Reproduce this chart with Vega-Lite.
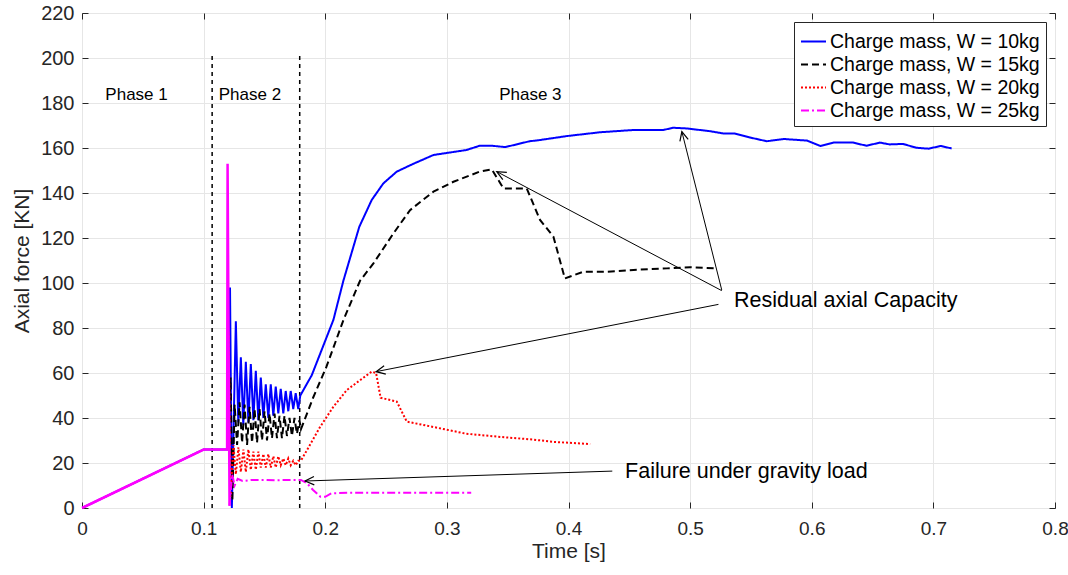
{
  "$schema": "https://vega.github.io/schema/vega-lite/v6.json",
  "width": 973,
  "height": 495,
  "autosize": "none",
  "padding": {"left": 82, "top": 13, "right": 13, "bottom": 67},
  "background": "white",
  "config": {
    "view": {"stroke": "#262626", "strokeWidth": 1},
    "font": "Liberation Sans",
    "axis": {
      "domain": false,
      "ticks": true,
      "tickSize": -6,
      "tickColor": "#262626",
      "tickWidth": 1,
      "labelFlush": false,
      "labelOverlap": false,
      "grid": true,
      "gridColor": "#e6e6e6",
      "gridWidth": 1,
      "labelColor": "#262626",
      "titleColor": "#262626",
      "labelFont": "Liberation Sans",
      "titleFont": "Liberation Sans",
      "titleFontWeight": "normal"
    }
  },
  "resolve": {"axis": {"x": "independent", "y": "independent"}},
  "datasets": {
    "series": [
      {"s": "Charge mass, W = 10kg", "t": 0, "f": 0},
      {"s": "Charge mass, W = 10kg", "t": 0.1, "f": 26},
      {"s": "Charge mass, W = 10kg", "t": 0.12, "f": 26},
      {"s": "Charge mass, W = 10kg", "t": 0.1217, "f": 98},
      {"s": "Charge mass, W = 10kg", "t": 0.1232, "f": 0},
      {"s": "Charge mass, W = 10kg", "t": 0.1265, "f": 83},
      {"s": "Charge mass, W = 10kg", "t": 0.1285, "f": 38},
      {"s": "Charge mass, W = 10kg", "t": 0.1306, "f": 67},
      {"s": "Charge mass, W = 10kg", "t": 0.1326, "f": 37},
      {"s": "Charge mass, W = 10kg", "t": 0.1347, "f": 65},
      {"s": "Charge mass, W = 10kg", "t": 0.1368, "f": 38},
      {"s": "Charge mass, W = 10kg", "t": 0.1388, "f": 64},
      {"s": "Charge mass, W = 10kg", "t": 0.1409, "f": 39},
      {"s": "Charge mass, W = 10kg", "t": 0.1429, "f": 61},
      {"s": "Charge mass, W = 10kg", "t": 0.145, "f": 39},
      {"s": "Charge mass, W = 10kg", "t": 0.147, "f": 58},
      {"s": "Charge mass, W = 10kg", "t": 0.1491, "f": 40},
      {"s": "Charge mass, W = 10kg", "t": 0.1511, "f": 55},
      {"s": "Charge mass, W = 10kg", "t": 0.1532, "f": 40},
      {"s": "Charge mass, W = 10kg", "t": 0.1552, "f": 55},
      {"s": "Charge mass, W = 10kg", "t": 0.1573, "f": 41},
      {"s": "Charge mass, W = 10kg", "t": 0.1593, "f": 54},
      {"s": "Charge mass, W = 10kg", "t": 0.1614, "f": 42},
      {"s": "Charge mass, W = 10kg", "t": 0.1634, "f": 53},
      {"s": "Charge mass, W = 10kg", "t": 0.1655, "f": 42},
      {"s": "Charge mass, W = 10kg", "t": 0.1675, "f": 52},
      {"s": "Charge mass, W = 10kg", "t": 0.1696, "f": 43},
      {"s": "Charge mass, W = 10kg", "t": 0.1716, "f": 52},
      {"s": "Charge mass, W = 10kg", "t": 0.1737, "f": 44},
      {"s": "Charge mass, W = 10kg", "t": 0.1757, "f": 51},
      {"s": "Charge mass, W = 10kg", "t": 0.1778, "f": 44},
      {"s": "Charge mass, W = 10kg", "t": 0.1795, "f": 50},
      {"s": "Charge mass, W = 10kg", "t": 0.1889, "f": 59},
      {"s": "Charge mass, W = 10kg", "t": 0.2067, "f": 83.6},
      {"s": "Charge mass, W = 10kg", "t": 0.2149, "f": 101},
      {"s": "Charge mass, W = 10kg", "t": 0.228, "f": 125},
      {"s": "Charge mass, W = 10kg", "t": 0.2382, "f": 136.9},
      {"s": "Charge mass, W = 10kg", "t": 0.2478, "f": 144.3},
      {"s": "Charge mass, W = 10kg", "t": 0.2588, "f": 149.5},
      {"s": "Charge mass, W = 10kg", "t": 0.2725, "f": 153},
      {"s": "Charge mass, W = 10kg", "t": 0.289, "f": 156.9},
      {"s": "Charge mass, W = 10kg", "t": 0.316, "f": 159.1},
      {"s": "Charge mass, W = 10kg", "t": 0.327, "f": 161},
      {"s": "Charge mass, W = 10kg", "t": 0.337, "f": 161},
      {"s": "Charge mass, W = 10kg", "t": 0.348, "f": 160.4},
      {"s": "Charge mass, W = 10kg", "t": 0.368, "f": 163},
      {"s": "Charge mass, W = 10kg", "t": 0.376, "f": 163.5},
      {"s": "Charge mass, W = 10kg", "t": 0.3986, "f": 165.3},
      {"s": "Charge mass, W = 10kg", "t": 0.426, "f": 167},
      {"s": "Charge mass, W = 10kg", "t": 0.4534, "f": 168},
      {"s": "Charge mass, W = 10kg", "t": 0.467, "f": 168},
      {"s": "Charge mass, W = 10kg", "t": 0.478, "f": 168},
      {"s": "Charge mass, W = 10kg", "t": 0.486, "f": 169},
      {"s": "Charge mass, W = 10kg", "t": 0.497, "f": 168.7},
      {"s": "Charge mass, W = 10kg", "t": 0.516, "f": 167.5},
      {"s": "Charge mass, W = 10kg", "t": 0.527, "f": 166.5},
      {"s": "Charge mass, W = 10kg", "t": 0.536, "f": 166.5},
      {"s": "Charge mass, W = 10kg", "t": 0.549, "f": 164.7},
      {"s": "Charge mass, W = 10kg", "t": 0.563, "f": 163},
      {"s": "Charge mass, W = 10kg", "t": 0.577, "f": 164},
      {"s": "Charge mass, W = 10kg", "t": 0.596, "f": 163.3},
      {"s": "Charge mass, W = 10kg", "t": 0.607, "f": 160.9},
      {"s": "Charge mass, W = 10kg", "t": 0.618, "f": 162.4},
      {"s": "Charge mass, W = 10kg", "t": 0.634, "f": 162.4},
      {"s": "Charge mass, W = 10kg", "t": 0.645, "f": 161},
      {"s": "Charge mass, W = 10kg", "t": 0.656, "f": 162.4},
      {"s": "Charge mass, W = 10kg", "t": 0.664, "f": 161.6},
      {"s": "Charge mass, W = 10kg", "t": 0.675, "f": 161.8},
      {"s": "Charge mass, W = 10kg", "t": 0.686, "f": 160.1},
      {"s": "Charge mass, W = 10kg", "t": 0.696, "f": 159.7},
      {"s": "Charge mass, W = 10kg", "t": 0.706, "f": 160.9},
      {"s": "Charge mass, W = 10kg", "t": 0.715, "f": 159.8},

      {"s": "Charge mass, W = 15kg", "t": 0.12, "f": 26},
      {"s": "Charge mass, W = 15kg", "t": 0.1222, "f": 58},
      {"s": "Charge mass, W = 15kg", "t": 0.1236, "f": 3},
      {"s": "Charge mass, W = 15kg", "t": 0.1255, "f": 46},
      {"s": "Charge mass, W = 15kg", "t": 0.1275, "f": 28},
      {"s": "Charge mass, W = 15kg", "t": 0.1296, "f": 47},
      {"s": "Charge mass, W = 15kg", "t": 0.1316, "f": 29},
      {"s": "Charge mass, W = 15kg", "t": 0.1337, "f": 46},
      {"s": "Charge mass, W = 15kg", "t": 0.1357, "f": 28},
      {"s": "Charge mass, W = 15kg", "t": 0.1378, "f": 45},
      {"s": "Charge mass, W = 15kg", "t": 0.1398, "f": 29},
      {"s": "Charge mass, W = 15kg", "t": 0.1419, "f": 44},
      {"s": "Charge mass, W = 15kg", "t": 0.1439, "f": 29},
      {"s": "Charge mass, W = 15kg", "t": 0.146, "f": 44},
      {"s": "Charge mass, W = 15kg", "t": 0.148, "f": 30},
      {"s": "Charge mass, W = 15kg", "t": 0.1501, "f": 43},
      {"s": "Charge mass, W = 15kg", "t": 0.1521, "f": 30},
      {"s": "Charge mass, W = 15kg", "t": 0.1542, "f": 42},
      {"s": "Charge mass, W = 15kg", "t": 0.1562, "f": 31},
      {"s": "Charge mass, W = 15kg", "t": 0.1583, "f": 42},
      {"s": "Charge mass, W = 15kg", "t": 0.1603, "f": 31},
      {"s": "Charge mass, W = 15kg", "t": 0.1624, "f": 41},
      {"s": "Charge mass, W = 15kg", "t": 0.1644, "f": 31},
      {"s": "Charge mass, W = 15kg", "t": 0.1665, "f": 41},
      {"s": "Charge mass, W = 15kg", "t": 0.1685, "f": 32},
      {"s": "Charge mass, W = 15kg", "t": 0.1706, "f": 40},
      {"s": "Charge mass, W = 15kg", "t": 0.1726, "f": 32},
      {"s": "Charge mass, W = 15kg", "t": 0.1747, "f": 40},
      {"s": "Charge mass, W = 15kg", "t": 0.1767, "f": 33},
      {"s": "Charge mass, W = 15kg", "t": 0.1788, "f": 39},
      {"s": "Charge mass, W = 15kg", "t": 0.18, "f": 35},
      {"s": "Charge mass, W = 15kg", "t": 0.19, "f": 49},
      {"s": "Charge mass, W = 15kg", "t": 0.201, "f": 62.8},
      {"s": "Charge mass, W = 15kg", "t": 0.215, "f": 83.6},
      {"s": "Charge mass, W = 15kg", "t": 0.2286, "f": 101},
      {"s": "Charge mass, W = 15kg", "t": 0.2396, "f": 108.7},
      {"s": "Charge mass, W = 15kg", "t": 0.256, "f": 122},
      {"s": "Charge mass, W = 15kg", "t": 0.2697, "f": 132.4},
      {"s": "Charge mass, W = 15kg", "t": 0.289, "f": 140.6},
      {"s": "Charge mass, W = 15kg", "t": 0.3054, "f": 145},
      {"s": "Charge mass, W = 15kg", "t": 0.327, "f": 149.5},
      {"s": "Charge mass, W = 15kg", "t": 0.337, "f": 150.5},
      {"s": "Charge mass, W = 15kg", "t": 0.3465, "f": 142},
      {"s": "Charge mass, W = 15kg", "t": 0.3657, "f": 142},
      {"s": "Charge mass, W = 15kg", "t": 0.3766, "f": 128},
      {"s": "Charge mass, W = 15kg", "t": 0.3876, "f": 120.6},
      {"s": "Charge mass, W = 15kg", "t": 0.397, "f": 102},
      {"s": "Charge mass, W = 15kg", "t": 0.412, "f": 105},
      {"s": "Charge mass, W = 15kg", "t": 0.431, "f": 105},
      {"s": "Charge mass, W = 15kg", "t": 0.4534, "f": 105.8},
      {"s": "Charge mass, W = 15kg", "t": 0.481, "f": 106.5},
      {"s": "Charge mass, W = 15kg", "t": 0.5, "f": 107},
      {"s": "Charge mass, W = 15kg", "t": 0.52, "f": 106.5},

      {"s": "Charge mass, W = 20kg", "t": 0.12, "f": 26},
      {"s": "Charge mass, W = 20kg", "t": 0.1205, "f": 78},
      {"s": "Charge mass, W = 20kg", "t": 0.1222, "f": 5},
      {"s": "Charge mass, W = 20kg", "t": 0.1245, "f": 28},
      {"s": "Charge mass, W = 20kg", "t": 0.1265, "f": 15},
      {"s": "Charge mass, W = 20kg", "t": 0.1286, "f": 27},
      {"s": "Charge mass, W = 20kg", "t": 0.1306, "f": 16},
      {"s": "Charge mass, W = 20kg", "t": 0.1327, "f": 26},
      {"s": "Charge mass, W = 20kg", "t": 0.1347, "f": 16},
      {"s": "Charge mass, W = 20kg", "t": 0.1368, "f": 26},
      {"s": "Charge mass, W = 20kg", "t": 0.1388, "f": 17},
      {"s": "Charge mass, W = 20kg", "t": 0.1409, "f": 25},
      {"s": "Charge mass, W = 20kg", "t": 0.1429, "f": 17},
      {"s": "Charge mass, W = 20kg", "t": 0.145, "f": 25},
      {"s": "Charge mass, W = 20kg", "t": 0.147, "f": 18},
      {"s": "Charge mass, W = 20kg", "t": 0.1491, "f": 24},
      {"s": "Charge mass, W = 20kg", "t": 0.1511, "f": 18},
      {"s": "Charge mass, W = 20kg", "t": 0.1532, "f": 24},
      {"s": "Charge mass, W = 20kg", "t": 0.1552, "f": 18},
      {"s": "Charge mass, W = 20kg", "t": 0.1573, "f": 23},
      {"s": "Charge mass, W = 20kg", "t": 0.1593, "f": 18},
      {"s": "Charge mass, W = 20kg", "t": 0.1614, "f": 23},
      {"s": "Charge mass, W = 20kg", "t": 0.1634, "f": 19},
      {"s": "Charge mass, W = 20kg", "t": 0.1655, "f": 22},
      {"s": "Charge mass, W = 20kg", "t": 0.1675, "f": 19},
      {"s": "Charge mass, W = 20kg", "t": 0.1696, "f": 22},
      {"s": "Charge mass, W = 20kg", "t": 0.1716, "f": 19},
      {"s": "Charge mass, W = 20kg", "t": 0.1737, "f": 21},
      {"s": "Charge mass, W = 20kg", "t": 0.1757, "f": 19},
      {"s": "Charge mass, W = 20kg", "t": 0.1778, "f": 21},
      {"s": "Charge mass, W = 20kg", "t": 0.18, "f": 21},
      {"s": "Charge mass, W = 20kg", "t": 0.1957, "f": 36},
      {"s": "Charge mass, W = 20kg", "t": 0.2067, "f": 45},
      {"s": "Charge mass, W = 20kg", "t": 0.2177, "f": 52.4},
      {"s": "Charge mass, W = 20kg", "t": 0.2286, "f": 56.8},
      {"s": "Charge mass, W = 20kg", "t": 0.2382, "f": 60.6},
      {"s": "Charge mass, W = 20kg", "t": 0.2418, "f": 60},
      {"s": "Charge mass, W = 20kg", "t": 0.2455, "f": 49},
      {"s": "Charge mass, W = 20kg", "t": 0.2588, "f": 47.3},
      {"s": "Charge mass, W = 20kg", "t": 0.267, "f": 38.4},
      {"s": "Charge mass, W = 20kg", "t": 0.289, "f": 36},
      {"s": "Charge mass, W = 20kg", "t": 0.316, "f": 33},
      {"s": "Charge mass, W = 20kg", "t": 0.3438, "f": 31.6},
      {"s": "Charge mass, W = 20kg", "t": 0.371, "f": 30.4},
      {"s": "Charge mass, W = 20kg", "t": 0.3876, "f": 29.4},
      {"s": "Charge mass, W = 20kg", "t": 0.4178, "f": 28.4},

      {"s": "Charge mass, W = 25kg", "t": 0.1213, "f": 1},
      {"s": "Charge mass, W = 25kg", "t": 0.1235, "f": 15},
      {"s": "Charge mass, W = 25kg", "t": 0.1255, "f": 10},
      {"s": "Charge mass, W = 25kg", "t": 0.128, "f": 13},
      {"s": "Charge mass, W = 25kg", "t": 0.132, "f": 12},
      {"s": "Charge mass, W = 25kg", "t": 0.14, "f": 12.5},
      {"s": "Charge mass, W = 25kg", "t": 0.15, "f": 12.5},
      {"s": "Charge mass, W = 25kg", "t": 0.16, "f": 12.3},
      {"s": "Charge mass, W = 25kg", "t": 0.17, "f": 12.5},
      {"s": "Charge mass, W = 25kg", "t": 0.18, "f": 12.5},
      {"s": "Charge mass, W = 25kg", "t": 0.185, "f": 11},
      {"s": "Charge mass, W = 25kg", "t": 0.19, "f": 8},
      {"s": "Charge mass, W = 25kg", "t": 0.196, "f": 5},
      {"s": "Charge mass, W = 25kg", "t": 0.2, "f": 5},
      {"s": "Charge mass, W = 25kg", "t": 0.205, "f": 6.5},
      {"s": "Charge mass, W = 25kg", "t": 0.22, "f": 6.8},
      {"s": "Charge mass, W = 25kg", "t": 0.25, "f": 6.8},
      {"s": "Charge mass, W = 25kg", "t": 0.28, "f": 6.8},
      {"s": "Charge mass, W = 25kg", "t": 0.32, "f": 6.8}
    ],
    "loading": [
      {"t": 0, "f": 0},
      {"t": 0.1, "f": 26},
      {"t": 0.1193, "f": 26},
      {"t": 0.1197, "f": 153},
      {"t": 0.1213, "f": 1}
    ],
    "phases": [{"t": 0.107}, {"t": 0.179}],
    "phaseLabels": [
      {"label": "Phase 1", "t": 0.0192, "f": 181.3},
      {"label": "Phase 2", "t": 0.1124, "f": 181.3},
      {"label": "Phase 3", "t": 0.343, "f": 181.3}
    ],
    "notes": [
      {"label": "Residual axial Capacity", "t": 0.536, "f": 89.5},
      {"label": "Failure under gravity load", "t": 0.4465, "f": 13.3}
    ],
    "shafts": [
      {"a": "blue", "k": 0, "t": 0.526, "f": 96.9},
      {"a": "blue", "k": 1, "t": 0.4932, "f": 167.3},
      {"a": "black", "k": 0, "t": 0.526, "f": 96.6},
      {"a": "black", "k": 1, "t": 0.341, "f": 149.5},
      {"a": "red", "k": 0, "t": 0.5233, "f": 90.5},
      {"a": "red", "k": 1, "t": 0.2418, "f": 60.6},
      {"a": "grav", "k": 0, "t": 0.436, "f": 16.4},
      {"a": "grav", "k": 1, "t": 0.1834, "f": 12.0}
    ],
    "heads": [
      {"a": "blue", "k": 0, "t": 0.4916, "f": 162.9},
      {"a": "blue", "k": 1, "t": 0.4932, "f": 167.3},
      {"a": "blue", "k": 2, "t": 0.4984, "f": 163.8},
      {"a": "black", "k": 0, "t": 0.346, "f": 145.9},
      {"a": "black", "k": 1, "t": 0.341, "f": 149.5},
      {"a": "black", "k": 2, "t": 0.3493, "f": 149.2},
      {"a": "red", "k": 0, "t": 0.2498, "f": 59.5},
      {"a": "red", "k": 1, "t": 0.2418, "f": 60.6},
      {"a": "red", "k": 2, "t": 0.2484, "f": 63.2},
      {"a": "grav", "k": 0, "t": 0.191, "f": 10.27},
      {"a": "grav", "k": 1, "t": 0.1834, "f": 12.0},
      {"a": "grav", "k": 2, "t": 0.1907, "f": 14.0}
    ]
  },
  "layer": [
    {
      "data": {"name": "phases"},
      "mark": {"type": "rule", "color": "#000000", "strokeWidth": 1.5, "strokeDash": [4, 4]},
      "encoding": {
        "x": {"field": "t", "type": "quantitative", "scale": {"domain": [0, 0.8], "nice": false},
          "axis": {"title": "Time [s]", "values": [0, 0.1, 0.2, 0.3, 0.4, 0.5, 0.6, 0.7, 0.8], "format": "~g",
            "labelFont": "Liberation Sans Narrow, Liberation Sans", "labelFontSize": 19, "labelPadding": 17,
            "titleFont": "Liberation Sans Narrow, Liberation Sans", "titleFontSize": 21, "titlePadding": 2}},
        "y": {"datum": 0, "type": "quantitative", "scale": {"domain": [0, 220], "nice": false},
          "axis": {"title": "Axial force [KN]", "values": [0, 20, 40, 60, 80, 100, 120, 140, 160, 180, 200, 220],
            "labelFontSize": 20, "labelPadding": 14, "titleFontSize": 21, "titlePadding": 8}},
        "y2": {"datum": 202}
      }
    },
    {
      "data": {"name": "series"},
      "mark": {"type": "line", "strokeWidth": 2, "clip": true},
      "encoding": {
        "x": {"field": "t", "type": "quantitative", "axis": null},
        "y": {"field": "f", "type": "quantitative", "axis": null},
        "color": {
          "field": "s", "type": "nominal",
          "scale": {"domain": ["Charge mass, W = 10kg", "Charge mass, W = 15kg", "Charge mass, W = 20kg", "Charge mass, W = 25kg"],
            "range": ["#0000ff", "#000000", "#ff0000", "#ff00ff"]},
          "legend": {
            "title": null, "orient": "top-right", "offset": 9,
            "symbolType": "stroke", "symbolSize": 625, "symbolStrokeWidth": 2,
            "labelFontSize": 19.5, "labelColor": "#000000", "labelFont": "Liberation Sans", "labelLimit": 0,
            "rowPadding": 0, "padding": 6, "labelOffset": 3,
            "fillColor": "white", "strokeColor": "#262626", "cornerRadius": 0
          }
        },
        "strokeDash": {
          "field": "s", "type": "nominal",
          "scale": {"domain": ["Charge mass, W = 10kg", "Charge mass, W = 15kg", "Charge mass, W = 20kg", "Charge mass, W = 25kg"],
            "range": [[1, 0], [7, 4], [2, 2], [8, 3, 2, 3]]}
        }
      }
    },
    {
      "data": {"name": "loading"},
      "mark": {"type": "line", "strokeWidth": 2.5, "color": "#ff00ff"},
      "encoding": {
        "x": {"field": "t", "type": "quantitative", "axis": null},
        "y": {"field": "f", "type": "quantitative", "axis": null}
      }
    },
    {
      "data": {"name": "shafts"},
      "mark": {"type": "line", "color": "#000000", "strokeWidth": 1},
      "encoding": {
        "x": {"field": "t", "type": "quantitative", "axis": null},
        "y": {"field": "f", "type": "quantitative", "axis": null},
        "detail": {"field": "a"},
        "order": {"field": "k"}
      }
    },
    {
      "data": {"name": "heads"},
      "mark": {"type": "line", "color": "#000000", "strokeWidth": 1.2},
      "encoding": {
        "x": {"field": "t", "type": "quantitative", "axis": null},
        "y": {"field": "f", "type": "quantitative", "axis": null},
        "detail": {"field": "a"},
        "order": {"field": "k"}
      }
    },
    {
      "data": {"name": "phaseLabels"},
      "mark": {"type": "text", "align": "left", "baseline": "alphabetic", "fontSize": 17, "color": "#000000"},
      "encoding": {
        "x": {"field": "t", "type": "quantitative",
          "axis": {"orient": "top", "labels": false, "title": null, "grid": false, "values": [0, 0.1, 0.2, 0.3, 0.4, 0.5, 0.6, 0.7, 0.8]}},
        "y": {"field": "f", "type": "quantitative",
          "axis": {"orient": "right", "labels": false, "title": null, "grid": false, "values": [0, 20, 40, 60, 80, 100, 120, 140, 160, 180, 200, 220]}},
        "text": {"field": "label"}
      }
    },
    {
      "data": {"name": "notes"},
      "mark": {"type": "text", "align": "left", "baseline": "alphabetic", "fontSize": 21.5, "color": "#000000"},
      "encoding": {
        "x": {"field": "t", "type": "quantitative", "axis": null},
        "y": {"field": "f", "type": "quantitative", "axis": null},
        "text": {"field": "label"}
      }
    }
  ]
}
